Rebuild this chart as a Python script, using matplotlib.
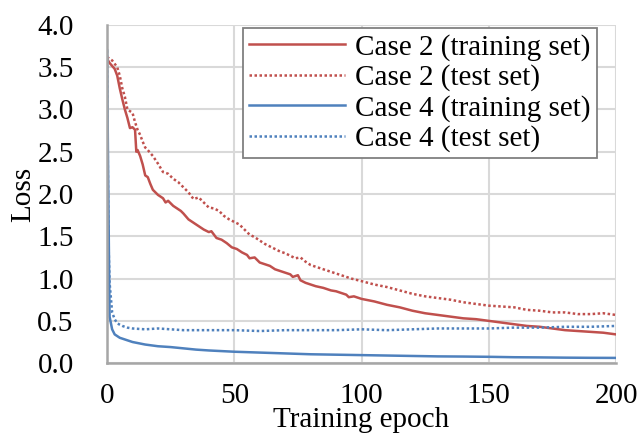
import matplotlib
matplotlib.use("Agg")
import matplotlib.pyplot as plt

plt.rcParams['font.family'] = ['Liberation Serif', 'DejaVu Serif']
plt.rcParams['font.size'] = 21

# Case 2 (training set)
c2_train_ep = [0, 1, 3, 4, 5, 6, 7, 8, 9, 10, 11, 11.5, 12, 13, 14, 15, 16, 17, 18, 20,
               22, 23, 24, 26, 28, 29, 30, 32, 34, 36, 38, 40, 41, 43, 45, 47, 49, 51, 53, 55,
               56, 58, 60, 62, 64, 66, 68, 70, 72, 73, 75, 76, 78, 80, 82, 85, 88, 90, 92, 94,
               95, 97, 100, 105, 110, 115, 120, 125, 130, 135, 140, 145, 150, 155, 160, 165,
               170, 175, 180, 185, 190, 195, 200]
c2_train = [3.60, 3.55, 3.48, 3.40, 3.25, 3.12, 3.00, 2.90, 2.78, 2.79, 2.76, 2.50, 2.52, 2.45,
            2.35, 2.22, 2.20, 2.12, 2.05, 1.99, 1.95, 1.90, 1.92, 1.86, 1.82, 1.80, 1.77, 1.70,
            1.66, 1.62, 1.58, 1.55, 1.56, 1.48, 1.46, 1.42, 1.37, 1.35, 1.31, 1.28, 1.24, 1.25,
            1.19, 1.17, 1.15, 1.11, 1.09, 1.07, 1.05, 1.02, 1.04, 0.98, 0.95, 0.93, 0.91, 0.89,
            0.86, 0.85, 0.83, 0.81, 0.78, 0.79, 0.76, 0.73, 0.69, 0.66, 0.62, 0.59, 0.57, 0.55,
            0.53, 0.52, 0.50, 0.48, 0.46, 0.44, 0.43, 0.41, 0.39, 0.38, 0.37, 0.36, 0.34]

# Case 2 (test set)
c2_test_ep = [0, 2, 4, 5, 6, 7, 8, 9, 10, 11, 12, 13, 14, 15, 16, 18, 20, 22, 24, 26, 28, 30,
              32, 34, 36, 38, 40, 42, 44, 46, 48, 50, 52, 54, 56, 58, 60, 62, 64, 66, 68, 70,
              72, 74, 76, 78, 80, 82, 85, 88, 90, 93, 96, 100, 105, 110, 115, 120, 125, 130,
              135, 140, 145, 150, 155, 160, 165, 170, 175, 180, 185, 190, 195, 200]
c2_test = [3.62, 3.58, 3.50, 3.40, 3.25, 3.15, 3.00, 2.98, 2.96, 2.85, 2.76, 2.70, 2.62, 2.55,
           2.52, 2.45, 2.36, 2.26, 2.24, 2.18, 2.14, 2.08, 2.02, 1.94, 1.96, 1.90, 1.84, 1.83,
           1.80, 1.74, 1.70, 1.67, 1.64, 1.58, 1.52, 1.49, 1.45, 1.41, 1.38, 1.35, 1.32, 1.30,
           1.27, 1.24, 1.25, 1.20, 1.16, 1.14, 1.11, 1.08, 1.06, 1.03, 1.00, 0.97, 0.93, 0.90,
           0.86, 0.82, 0.79, 0.77, 0.75, 0.72, 0.70, 0.68, 0.67, 0.66, 0.63, 0.62, 0.60, 0.60,
           0.58, 0.58, 0.59, 0.57]

# Case 4 (training set)
c4_train_ep = [0, 0.5, 1, 2, 3, 5, 7, 10, 15, 20, 25, 30, 35, 40, 50, 60, 70, 80, 90, 100,
               110, 120, 130, 140, 150, 160, 170, 180, 190, 200]
c4_train = [3.70, 2.00, 0.55, 0.40, 0.34, 0.30, 0.28, 0.25, 0.22, 0.20, 0.19, 0.175, 0.16,
            0.15, 0.135, 0.125, 0.115, 0.105, 0.10, 0.095, 0.09, 0.085, 0.08, 0.078, 0.075,
            0.07, 0.068, 0.065, 0.063, 0.062]

# Case 4 (test set)
c4_test_ep = [0, 0.5, 1, 2, 3, 4, 6, 8, 10, 15, 20, 25, 30, 40, 50, 60, 70, 80, 90, 100,
              110, 120, 130, 140, 150, 160, 170, 180, 190, 200]
c4_test = [3.70, 1.50, 0.95, 0.60, 0.52, 0.47, 0.44, 0.42, 0.41, 0.40, 0.41, 0.40, 0.39, 0.39,
           0.39, 0.38, 0.39, 0.39, 0.39, 0.40, 0.39, 0.40, 0.41, 0.41, 0.41, 0.42, 0.42, 0.43,
           0.43, 0.44]

red = '#C0504D'
blue = '#4F81BD'
dots = (0, (1, 1))

fig = plt.figure(figsize=(6.41, 4.37), dpi=100)
ax = fig.add_axes([0.167, 0.169, 0.794, 0.774])

ax.plot(c2_train_ep, c2_train, color=red, lw=1.8, label='Case 2 (training set)')
ax.plot(c2_test_ep, c2_test, color=red, lw=1.8, ls=dots, label='Case 2 (test set)')
ax.plot(c4_train_ep, c4_train, color=blue, lw=1.8, label='Case 4 (training set)')
ax.plot(c4_test_ep, c4_test, color=blue, lw=1.8, ls=dots, label='Case 4 (test set)')

ax.set_xlim(0, 200)
ax.set_ylim(0, 4.0)
ax.set_xticks([0, 50, 100, 150, 200])
ax.set_yticks([0.0, 0.5, 1.0, 1.5, 2.0, 2.5, 3.0, 3.5, 4.0])
ax.set_yticklabels([f'{v:.1f}' for v in ax.get_yticks()])
ax.tick_params(axis='both', length=0, labelsize=21)
ax.tick_params(axis='x', pad=14)
ax.tick_params(axis='y', pad=24)

ax.grid(True, color='#D9D9D9', lw=1.5)
ax.set_axisbelow(True)
for side in ['top', 'right']:
    ax.spines[side].set_visible(False)
for side in ['left', 'bottom']:
    ax.spines[side].set_color('#A6A6A6')
    ax.spines[side].set_linewidth(1.8)

ax.set_xlabel('Training epoch', fontsize=21, labelpad=-1)
ax.set_ylabel('Loss', fontsize=21, labelpad=1)

leg = ax.legend(loc='upper left', bbox_to_anchor=(0.267, 0.991), borderaxespad=0,
                fancybox=False, framealpha=1, edgecolor='#808080', fontsize=21,
                handlelength=3.3, handletextpad=0.35, labelspacing=0.12, borderpad=0.2)
leg.get_frame().set_linewidth(1.3)

fig.savefig('out.png', dpi=100)
